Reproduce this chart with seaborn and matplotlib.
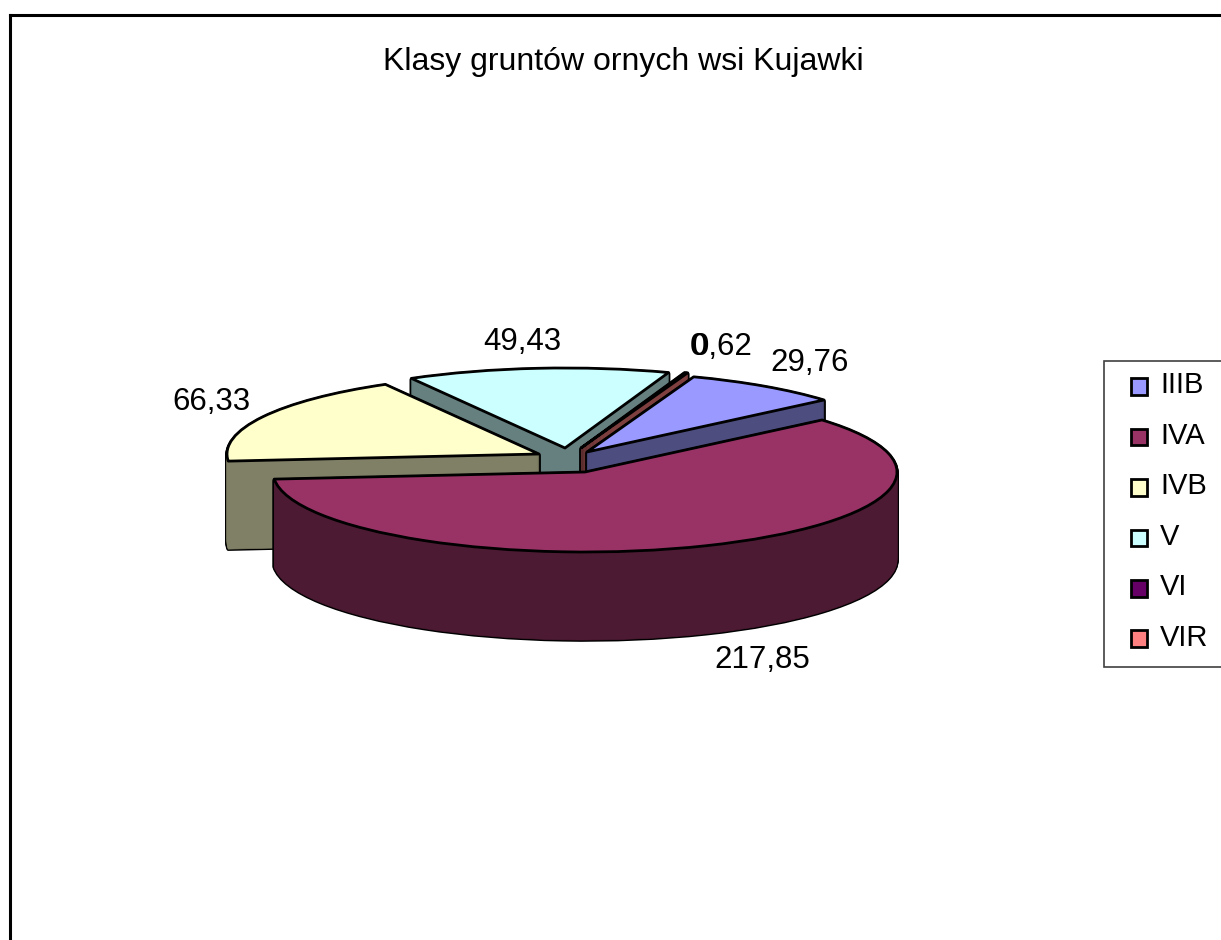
# klasy gruntow - exploded 3d style pie
import matplotlib
matplotlib.use('Agg')
import matplotlib.pyplot as plt
from matplotlib.patches import Patch, Rectangle
from matplotlib.legend_handler import HandlerPatch
import seaborn as sns

# data
classes = ['IIIB', 'IVA', 'IVB', 'V', 'VI', 'VIR']
areas = [29.76, 217.85, 66.33, 49.43, 0, 0.62]
title = 'Klasy gruntów ornych wsi Kujawki'

# colours
top_colors = sns.color_palette(['#9999FF', '#993366', '#FFFFCC', '#CCFFFF', '#660066', '#FF8080'])
side_colors = [tuple(c * 0.5 for c in col) for col in top_colors]

# layout in pixels of the 1221x940 picture
W, H = 1221, 940
RX, RY = 312, 80      # half axes of the squashed pie
DEPTH = 88
START = 70
apex = {'IIIB': (587, 452), 'IVA': (585, 472), 'IVB': (539, 454), 'V': (565, 448), 'VIR': (581, 448)}
label_pos = {'IIIB': (810, 363), 'IVA': (762, 660), 'IVB': (211, 402), 'V': (522, 342), 'VI': (698, 347), 'VIR': (722, 347)}
draw_order = ['V', 'VI', 'VIR', 'IIIB', 'IVB', 'IVA']

sns.set_theme(style='white')
plt.rcParams['font.family'] = ['Liberation Sans', 'DejaVu Sans']

fig = plt.figure(figsize=(W / 100, H / 100), dpi=100)
fig.patch.set_facecolor('white')

# outer chart border, runs off the right and the bottom
frame = fig.add_axes([10 / W, -0.1, 1.1, 1.1 - 14.5 / H])
frame.set_xticks([])
frame.set_yticks([])
for s in frame.spines.values():
    s.set_color('black')
    s.set_linewidth(2.2)

ax = fig.add_axes([0, 0, 1, 1])
ax.patch.set_alpha(0)


def to_data(x, y):
    return x / RX, -y / RY


def slice_pie(frac, start, color, x, y, **wedge):
    ax.pie([frac], colors=[color], startangle=start, counterclock=False, radius=1,
           center=to_data(x, y), normalize=False, wedgeprops=wedge)


total = sum(areas)
starts = {}
angle = START
for name, val in zip(classes, areas):
    starts[name] = angle
    angle -= 360 * val / total

for name in draw_order:
    i = classes.index(name)
    if areas[i] == 0:
        continue
    frac = areas[i] / total
    x, y = apex[name]
    # black silhouette of the side, then the fill over it, then the top face
    for d in range(DEPTH, 0, -1):
        slice_pie(frac, starts[name], 'black', x, y + d, edgecolor='black', linewidth=2.6, joinstyle='round')
    for d in range(DEPTH, 0, -1):
        slice_pie(frac, starts[name], side_colors[i], x, y + d, edgecolor=side_colors[i], linewidth=0.5)
    slice_pie(frac, starts[name], top_colors[i], x, y, edgecolor='black', linewidth=2, joinstyle='round')

ax.set_aspect('auto')
ax.set_xlim(0, W / RX)
ax.set_ylim(-H / RY, 0)
ax.set_axis_off()

# value labels with a decimal comma
for name, val in zip(classes, areas):
    txt = '0' if val == 0 else f'{val:.2f}'.replace('.', ',')
    px, py = to_data(*label_pos[name])
    ax.text(px, py, txt, fontsize=22.5, ha='center', va='center', color='black')

px, py = to_data(623, 62)
ax.text(px, py, title, fontsize=23, ha='center', va='center', color='black')

# legend box, open past the right edge of the picture
bx, by = to_data(1104, 667)
bw, bh = to_data(1240 - 1104, -(667 - 361))
ax.add_patch(Rectangle((bx, by), bw, bh, facecolor='white', edgecolor='#404040', linewidth=1.2, zorder=2))


def square(legend, orig_handle, xdescent, ydescent, width, height, fontsize):
    return Rectangle((width - 12, height / 2 - 8.5), 12, 12)


handles = [Patch(facecolor=c, edgecolor='black', linewidth=2) for c in top_colors]
leg = ax.legend(handles, classes, loc='upper left', bbox_to_anchor=(1104 / W, 1 - 361 / H),
                bbox_transform=fig.transFigure, fontsize=21, frameon=False, labelcolor='black',
                borderaxespad=0, borderpad=0.35, handlelength=1.13, handleheight=0.7,
                handletextpad=0.45, labelspacing=0.77,
                handler_map={Patch: HandlerPatch(patch_func=square)})

fig.savefig('out.png', dpi=100)
